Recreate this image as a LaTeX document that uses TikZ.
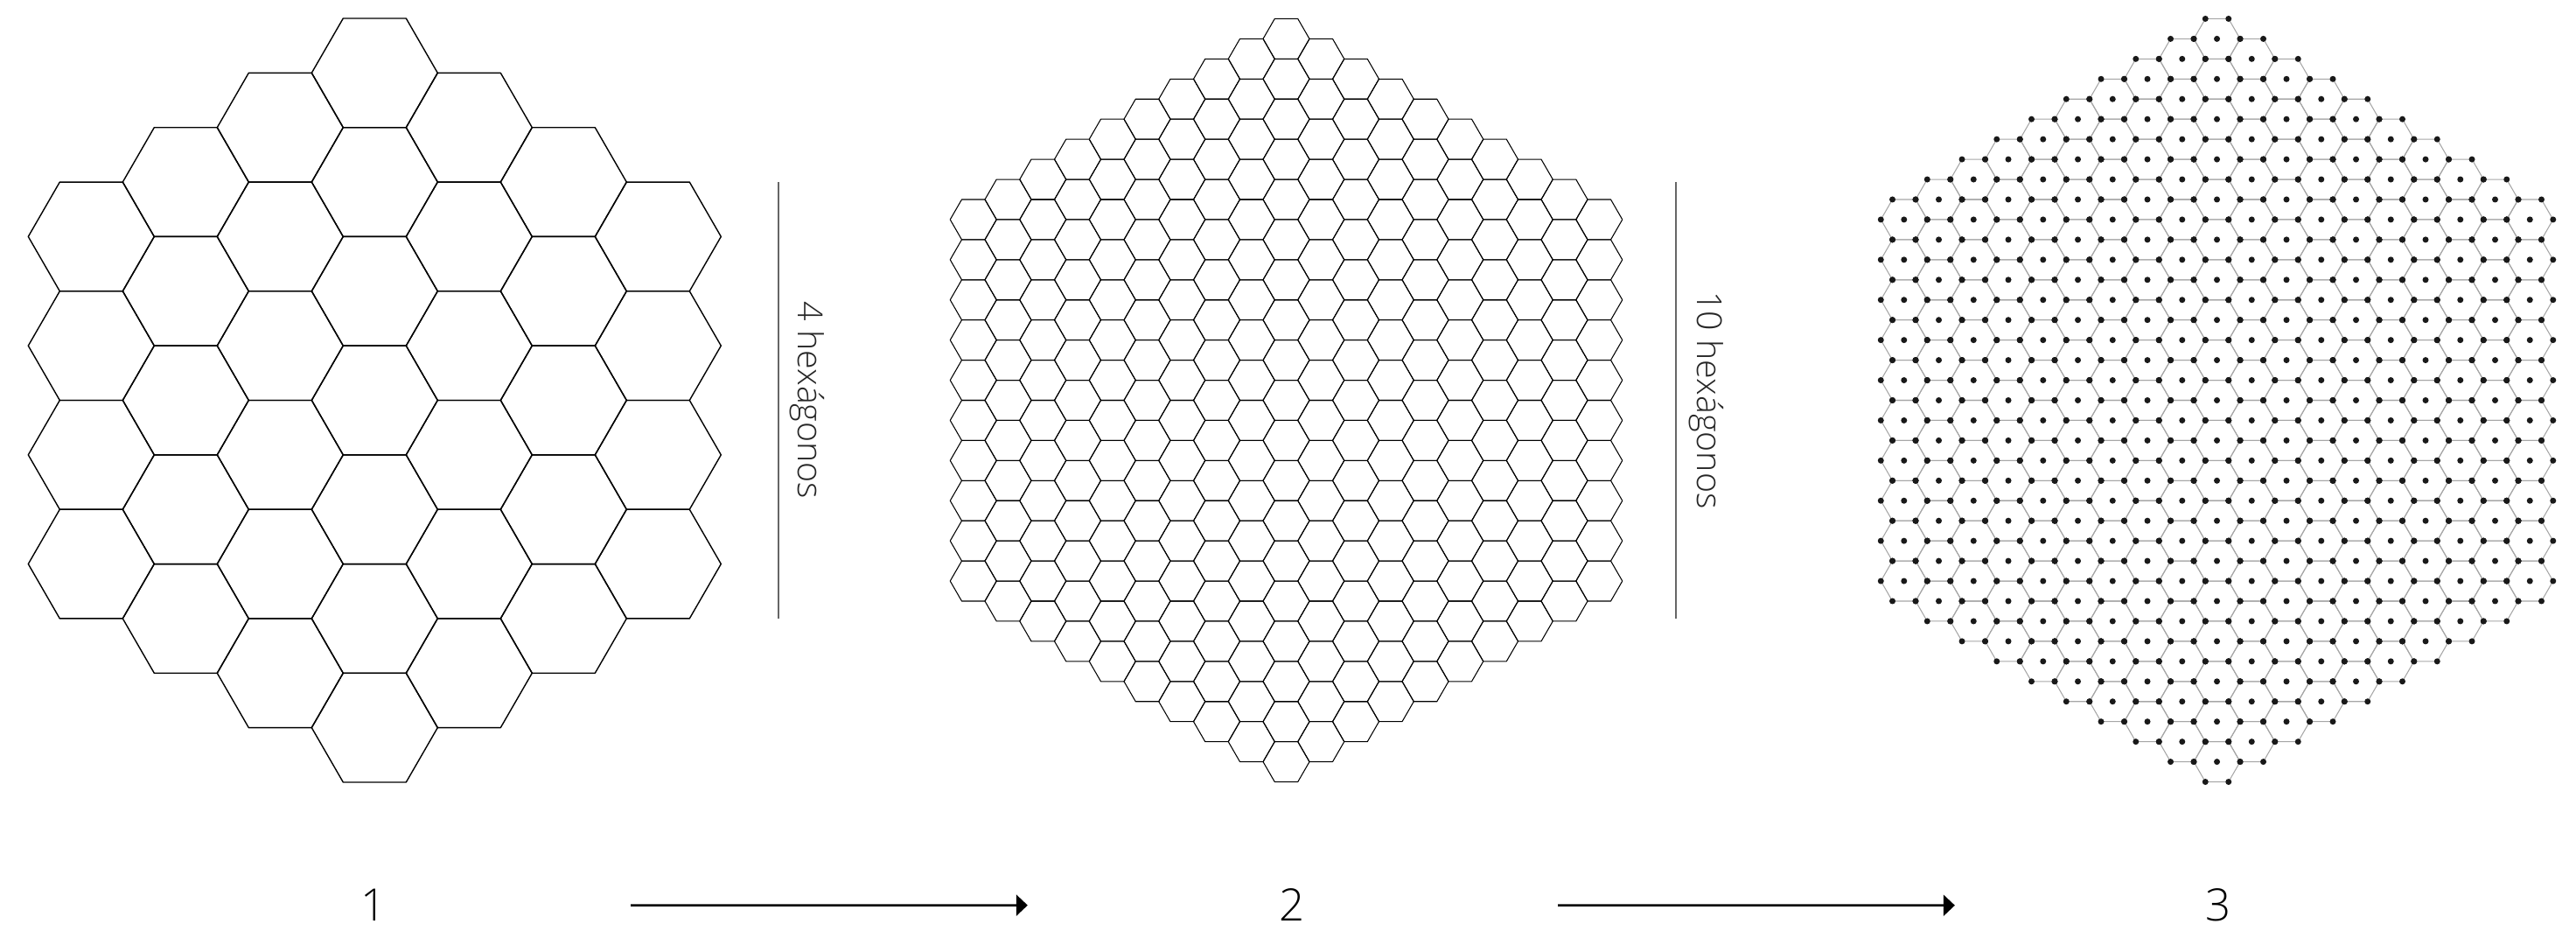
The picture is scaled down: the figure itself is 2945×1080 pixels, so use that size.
\documentclass[tikz,border=0pt]{standalone}
\usepackage{fontspec}
\setmainfont{Open Sans}[UprightFont=* Light]
\usetikzlibrary{arrows.meta}

\tikzset{
    bighex/.style={draw=black, line width=0.4pt, line join=round},
    smallhex/.style={draw=black, line width=0.3pt, line join=round},
    gridhex/.style={draw=black!35, line width=0.3pt},
    gridpoint/.style={fill=black!90},
    sizebar/.style={draw=black!60, line width=0.45pt},
    sizelabel/.style={rotate=-90, anchor=base, inner sep=0pt, text=black!85,
        font=\fontsize{11.2}{13}\selectfont},
    steplabel/.style={anchor=base, inner sep=0pt, font=\fontsize{14.5}{17}\selectfont},
    steparrow/.style={draw=black, line width=0.7pt, -{Triangle[length=0.13cm, width=0.24cm]}}
}

\newcommand{\hexcellpath}[3]{% centre x, centre y, side
    (#1,#2) +(0:#3) -- +(60:#3) -- +(120:#3) -- +(180:#3) -- +(240:#3) -- +(300:#3) -- cycle}

\begin{document}
\begin{tikzpicture}[x=0.01cm, y=-0.01cm]
\useasboundingbox (0,0) rectangle (2945,1080);

% 1: four hexagons a side
\foreach \q in {-3,...,3}{
    \foreach \r in {-3,...,3}{
        \pgfmathtruncatemacro{\qr}{abs(\q+\r)}
        \ifnum\qr<4
            \draw[bighex] \hexcellpath{{428.3+108*\q}}{{457.5+124.71*(\r+\q/2)}}{72};
        \fi
    }
}

% 2: ten hexagons a side
\foreach \q in {-9,...,9}{
    \foreach \r in {-9,...,9}{
        \pgfmathtruncatemacro{\qr}{abs(\q+\r)}
        \ifnum\qr<10
            \draw[smallhex] \hexcellpath{{1470.5+39.75*\q}}{{457.5+45.9*(\r+\q/2)}}{26.5};
        \fi
    }
}

% 3: the same grid, as points
\foreach \q in {-9,...,9}{
    \foreach \r in {-9,...,9}{
        \pgfmathtruncatemacro{\qr}{abs(\q+\r)}
        \ifnum\qr<10
            \draw[gridhex] \hexcellpath{{2534.5+39.75*\q}}{{457.5+45.9*(\r+\q/2)}}{26.5};
        \fi
    }
}
\foreach \q in {-9,...,9}{
    \foreach \r in {-9,...,9}{
        \pgfmathtruncatemacro{\qr}{abs(\q+\r)}
        \ifnum\qr<10
            \pgfmathsetmacro{\cx}{2534.5+39.75*\q}
            \pgfmathsetmacro{\cy}{457.5+45.9*(\r+\q/2)}
            \fill[gridpoint] (\cx,\cy) circle[radius=0.035cm];
            \foreach \a in {0,60,...,300}
                \fill[gridpoint] (\cx,\cy) ++(\a:26.5) circle[radius=0.035cm];
        \fi
    }
}

% size bars
\coordinate (bar1top) at (890,208.3);
\coordinate (bar1bot) at (890,706.7);
\draw[sizebar] (bar1top) -- (bar1bot);
\node[sizelabel] (size1) at (912,457.5) {4 hexágonos};

\coordinate (bar2top) at (1916,208.3);
\coordinate (bar2bot) at (1916,706.7);
\draw[sizebar] (bar2top) -- (bar2bot);
\node[sizelabel] (size2) at (1940,457.5) {10 hexágonos};

% steps
\node[steplabel] (n1) at (427,1053) {1};
\node[steplabel] (n2) at (1477,1053) {2};
\node[steplabel] (n3) at (2536,1053) {3};

\draw[steparrow, shorten <=2.94cm, shorten >=3.02cm] (n1.center) -- (n2.center);
\draw[steparrow, shorten <=3.04cm, shorten >=3.01cm] (n2.center) -- (n3.center);

\end{tikzpicture}
\end{document}
